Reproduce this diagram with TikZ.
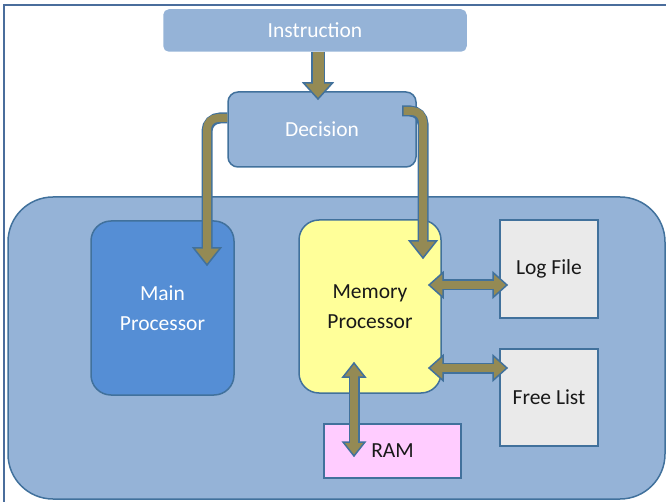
\documentclass[tikz,border=0pt]{standalone}
\usepackage{fontspec}
\setmainfont{Carlito}
\definecolor{boxblue}{HTML}{95B3D7}
\definecolor{edgeblue}{HTML}{41719C}
\definecolor{mainblue}{HTML}{558ED5}
\definecolor{memyellow}{HTML}{FFFF99}
\definecolor{filegray}{HTML}{EAEAEA}
\definecolor{rampink}{HTML}{FFCCFF}
\definecolor{olive}{HTML}{948A54}
\definecolor{framecol}{HTML}{4A6D9C}
\tikzset{
  blk/.style={draw=edgeblue, line width=1.5pt, inner sep=0pt, align=center,
              font=\fontsize{21.5}{30}\selectfont},
  shaftout/.style={draw=edgeblue, line width=11pt},
  shaftin/.style={draw=olive, line width=8pt},
  headfill/.style={fill=olive, draw=edgeblue, line width=1.5pt, line join=miter},
}
\begin{document}
\begin{tikzpicture}[x=1pt, y=-1pt]
\useasboundingbox (0,0) rectangle (666,502);

% page frame
\draw[framecol, line width=2pt] (3.5,502) -- (3.5,5) -- (666,5);

% container and inner blocks
\node[blk, fill=boxblue, rounded corners=45pt, minimum width=657pt, minimum height=302pt] (cont) at (336.5,348) {};
\node[blk, fill=mainblue, text=white, rounded corners=20pt, minimum width=143pt, minimum height=174pt] (main) at (162.5,308) {Main\\Processor};
\node[blk, fill=memyellow, text=black!90, rounded corners=20pt, minimum width=142pt, minimum height=173pt] (mem) at (370,306.5) {Memory\\Processor};
\node[blk, fill=filegray, text=black!90, minimum width=98pt, minimum height=98pt] (log) at (549,269) {Log File};
\node[blk, fill=filegray, text=black!90, minimum width=98pt, minimum height=97pt] (free) at (549,397.5) {Free List};
\node[blk, fill=rampink, text=black!90, minimum width=137pt, minimum height=54pt] (ram) at (392.5,451) {RAM};

% top blocks
\node[blk, draw=boxblue, fill=boxblue, text=white, rounded corners=5pt, minimum width=302pt, minimum height=41pt] (instr) at (315,30.5) {Instruction};
\node[blk, fill=boxblue, text=white, rounded corners=10pt, minimum width=188pt, minimum height=75pt] (dec) at (322,129.5) {Decision};

% Instruction -> Decision
\coordinate (t1) at (318,99);
\draw[shaftout, line width=14pt] (instr.south -| t1) -- (318,83);
\filldraw[headfill] (t1) -- ++(-14.5,-16) -- ++(29,0) -- cycle;
\draw[shaftin, line width=11pt] (instr.south -| t1) -- (318,85);

% Decision -> Main Processor
\coordinate (t2) at (207,265);
\draw[shaftout, rounded corners=13pt] (dec.west |- 0,118) -- (207,118) -- (207,248);
\filldraw[headfill] (t2) -- ++(-13.5,-17) -- ++(27,0) -- cycle;
\draw[shaftin, rounded corners=11pt] (dec.west |- 0,118) -- (207,118) -- (207,250);

% Decision -> Memory Processor
\coordinate (t3s) at (402,111);
\coordinate (t3) at (423,258);
\draw[shaftout, rounded corners=13pt] (t3s) -- (423,111) -- (423,241);
\filldraw[headfill] (t3) -- ++(-13.5,-17) -- ++(27,0) -- cycle;
\draw[shaftin, rounded corners=11pt] ([xshift=1.5pt]t3s) -- (423,111) -- (423,243);

% Memory Processor <-> Log File
\coordinate (l1) at (429,285);
\coordinate (l2) at (507,285);
\draw[shaftout] (443,285) -- (493,285);
\filldraw[headfill] (l1) -- ++(14,-12.5) -- ++(0,25) -- cycle;
\filldraw[headfill] (l2) -- ++(-14,-12.5) -- ++(0,25) -- cycle;
\draw[shaftin] (441,285) -- (495,285);

% Memory Processor <-> Free List
\coordinate (f1) at (429,368);
\coordinate (f2) at (507,368);
\draw[shaftout] (443,368) -- (493,368);
\filldraw[headfill] (f1) -- ++(14,-12.5) -- ++(0,25) -- cycle;
\filldraw[headfill] (f2) -- ++(-14,-12.5) -- ++(0,25) -- cycle;
\draw[shaftin] (441,368) -- (495,368);

% Memory Processor <-> RAM
\coordinate (r1) at (354,363);
\coordinate (r2) at (354,456);
\draw[shaftout] (354,376) -- (354,443);
\filldraw[headfill] (r1) -- ++(-11,14) -- ++(22,0) -- cycle;
\filldraw[headfill] (r2) -- ++(-11,-14) -- ++(22,0) -- cycle;
\draw[shaftin] (354,374) -- (354,445);
\end{tikzpicture}
\end{document}
